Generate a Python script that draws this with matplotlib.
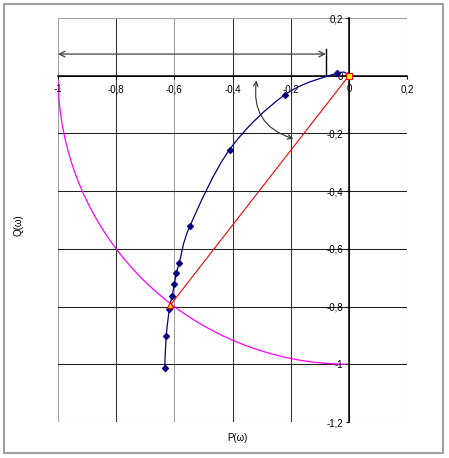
import matplotlib

matplotlib.use("Agg")
import matplotlib.pyplot as plt
from matplotlib.patches import Arc, Rectangle, FancyArrowPatch
from matplotlib.path import Path
from matplotlib.patches import PathPatch
import numpy as np

plt.rcParams["font.family"] = ["Liberation Sans", "DejaVu Sans"]

# hodograph points P(w), Q(w)
p_vals = [-0.004, -0.042, -0.22, -0.41, -0.546, -0.583, -0.593, -0.600,
          -0.608, -0.617, -0.628, -0.633]
q_vals = [0.004, 0.008, -0.066, -0.256, -0.52, -0.649, -0.683, -0.723,
          -0.765, -0.808, -0.903, -1.014]

# radius vector: origin -> intersection point
vec_p = [0.0, -0.614]
vec_q = [0.0, -0.795]

x_ticks = [-1, -0.8, -0.6, -0.4, -0.2, 0, 0.2]
y_ticks = [0.2, 0, -0.2, -0.4, -0.6, -0.8, -1, -1.2]


def fmt(v):
    return f"{v:g}".replace(".", ",")


def smooth_path(xs, ys, k=1 / 6):
    """Bezier path through the points (Excel-like smoothed line)."""
    pts = np.column_stack([xs, ys])
    verts = [pts[0]]
    codes = [Path.MOVETO]
    n = len(pts)
    for i in range(n - 1):
        p0 = pts[i - 1] if i > 0 else pts[i]
        p1 = pts[i]
        p2 = pts[i + 1]
        p3 = pts[i + 2] if i + 2 < n else pts[i + 1]
        c1 = p1 + (p2 - p0) * k
        c2 = p2 - (p3 - p1) * k
        verts += [c1, c2, p2]
        codes += [Path.CURVE4] * 3
    return Path(verts, codes)


fig = plt.figure(figsize=(4.49, 4.58), dpi=100)
fig.patches.append(Rectangle((4 / 449, 5 / 458), 439 / 449, 449 / 458,
                             transform=fig.transFigure, fill=False,
                             edgecolor="#a0a0a0", lw=1.5))
ax = fig.add_axes([58 / 449, 36 / 458, 349 / 449, 404 / 458])
ax.set_xlim(-1, 0.2)
ax.set_ylim(-1.2, 0.2)

# grid
for x in x_ticks:
    c = "#a0a0a0" if x in (-1, 0.2, -0.6) else "#303030"
    ax.axvline(x, color=c, lw=0.75, zorder=0)
for y in y_ticks:
    c = "#a0a0a0" if y in (0.2, -1.2) else "#202020"
    ax.axhline(y, color=c, lw=0.75, zorder=0)

for s in ax.spines.values():
    s.set_visible(False)
for side in ("left", "bottom"):
    ax.spines[side].set_visible(True)
    ax.spines[side].set_position(("data", 0))
    ax.spines[side].set_color("black")
    ax.spines[side].set_linewidth(1.1)

ax.set_xticks(x_ticks)
ax.set_xticklabels([fmt(v) for v in x_ticks])
ax.set_yticks(y_ticks)
ax.set_yticklabels([fmt(v) for v in y_ticks])
ax.tick_params(length=2, width=0.8, labelsize=7, direction="out")
ax.tick_params(axis="x", pad=4)
ax.tick_params(axis="y", pad=2)

# unit circle arc
ax.add_patch(Arc((0, 0), 2, 2, theta1=180, theta2=270, color="#ff00ff", lw=0.9))

# radius vector
ax.plot(vec_p, vec_q, color="#ff0000", lw=0.8, zorder=3)
ax.plot(vec_p[0], vec_q[0], "s", ms=4, mfc="#ffff00", mec="#ff0000", mew=0.8, zorder=5)
ax.plot(vec_p[1], vec_q[1], "^", ms=5, mfc="#ffff00", mec="#ff0000", mew=0.8, zorder=5)

# hodograph
ax.add_patch(PathPatch(smooth_path(p_vals, q_vals), fill=False,
                       edgecolor="#000080", lw=0.9, zorder=4))
ax.plot(p_vals, q_vals, "D", ms=3, color="#000080", zorder=4, ls="none")

# annotations
ax.annotate("", xy=(-1, 0.075), xytext=(-0.079, 0.075),
            arrowprops=dict(arrowstyle="<->", color="#404040", lw=0.9,
                            shrinkA=0, shrinkB=0))
ax.plot([-0.079, -0.079], [0.093, 0.0], color="black", lw=1)
ax.add_patch(FancyArrowPatch((-0.316, -0.007), (-0.182, -0.221),
                             connectionstyle="arc3,rad=0.45",
                             arrowstyle="<->", mutation_scale=8,
                             color="#303030", lw=0.8))

fig.text(237 / 449, 1 - 438 / 458, "P(\u03c9)", fontsize=7, ha="center", va="center")
fig.text(18 / 449, 1 - 225 / 458, "Q(\u03c9)", fontsize=7, ha="center", va="center",
         rotation=90)

plt.savefig("out.png", dpi=100)
